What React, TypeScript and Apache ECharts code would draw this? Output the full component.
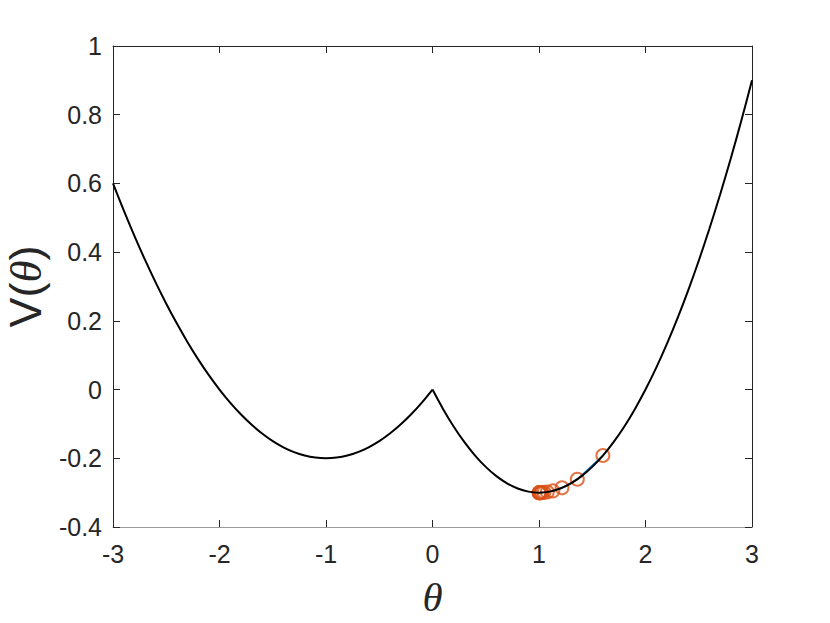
import React, { useEffect, useRef } from "react";
import * as echarts from "echarts";

// Curve samples
const thetaGrid = [
  -3.0, -2.9, -2.8, -2.7, -2.6, -2.5, -2.4, -2.3, -2.2, -2.1, -2.0, -1.9, -1.8, -1.7, -1.6, -1.5,
  -1.4, -1.3, -1.2, -1.1, -1.0, -0.9, -0.8, -0.7, -0.6, -0.5, -0.4, -0.3, -0.2, -0.1, 0.0,
  0.1, 0.2, 0.3, 0.4, 0.5, 0.6, 0.7, 0.8, 0.9, 1.0, 1.1, 1.2, 1.3, 1.4, 1.5, 1.6, 1.7, 1.8, 1.9,
  2.0, 2.1, 2.2, 2.3, 2.4, 2.5, 2.6, 2.7, 2.8, 2.9, 3.0,
];
const vCurve = [
  0.6, 0.522, 0.448, 0.378, 0.312, 0.25, 0.192, 0.138, 0.088, 0.042, 0.0, -0.038, -0.072, -0.102,
  -0.128, -0.15, -0.168, -0.182, -0.192, -0.198, -0.2, -0.198, -0.192, -0.182, -0.168, -0.15,
  -0.128, -0.102, -0.072, -0.038, 0.0,
  -0.057, -0.108, -0.153, -0.192, -0.225, -0.252, -0.273, -0.288, -0.297, -0.3, -0.297, -0.288,
  -0.273, -0.252, -0.225, -0.192, -0.153, -0.108, -0.057, 0.0, 0.063, 0.132, 0.207, 0.288, 0.375,
  0.468, 0.567, 0.672, 0.783, 0.9,
];

// Iterates (orange circles joined by the blue path)
const thetaIter = [1.6, 1.36, 1.216, 1.13, 1.078, 1.047, 1.028, 1.017, 1.01, 1.006, 1.004, 1.002, 1.001];
const vIter = [-0.192, -0.261, -0.286, -0.295, -0.298, -0.299, -0.2998, -0.2999, -0.3, -0.3, -0.3, -0.3, -0.3];

const xTicks = [-3, 3, 1];
const yTicks = [-0.4, 1, 0.2];

export default function App() {
  const ref = useRef<HTMLDivElement>(null);
  useEffect(() => {
    if (!ref.current) return;
    const chart = echarts.init(ref.current, null, { renderer: "svg" });
    const cusp = thetaGrid.indexOf(0);
    const left = thetaGrid.slice(0, cusp + 1).map((t, i) => [t, vCurve[i]]);
    const right = thetaGrid.slice(cusp).map((t, i) => [t, vCurve[cusp + i]]);
    const itersLine = thetaIter.map((t, i) => [t, vIter[i]]);
    const itersPts = thetaIter.map((t, i) => [t, vIter[i]]);
    const dark = "#262626";
    const tickFont = { fontFamily: "Liberation Sans, Arial, sans-serif", fontSize: 25, color: dark };
    const axisCommon = {
      type: "value" as const,
      splitLine: { show: false },
      axisTick: { show: true, inside: true, length: 7, lineStyle: { color: dark, width: 1 } },
    };
    chart.setOption({
      animation: false,
      backgroundColor: "#ffffff",
      grid: { left: 113, top: 46, right: 78, bottom: 96, containLabel: false, outerBoundsMode: "none" },
      xAxis: [
        {
          ...axisCommon,
          position: "bottom",
          min: xTicks[0],
          max: xTicks[1],
          interval: xTicks[2],
          axisLine: { show: true, onZero: false, lineStyle: { color: "#9a9a9a", width: 1 } },
          axisLabel: { ...tickFont, margin: 14 },
          name: "θ",
          nameLocation: "middle",
          nameGap: 51,
          nameTextStyle: {
            fontFamily: "Liberation Serif, DejaVu Serif, serif",
            fontStyle: "italic",
            fontSize: 41,
            lineHeight: 38,
            color: dark,
          },
        },
        {
          ...axisCommon,
          position: "top",
          min: xTicks[0],
          max: xTicks[1],
          interval: xTicks[2],
          axisLine: { show: true, onZero: false, lineStyle: { color: dark, width: 1 } },
          axisLabel: { show: false },
        },
      ],
      yAxis: [
        {
          ...axisCommon,
          position: "left",
          min: yTicks[0],
          max: yTicks[1],
          interval: yTicks[2],
          axisLine: { show: true, onZero: false, lineStyle: { color: dark, width: 1 } },
          axisLabel: { ...tickFont, margin: 11 },
          name: "{v|V(}{t|θ}{v|)}",
          nameLocation: "middle",
          nameGap: 60,
          nameRotate: 90,
          nameTextStyle: {
            color: dark,
            rich: {
              v: { fontFamily: "Liberation Sans, Arial, sans-serif", fontSize: 45, color: dark },
              t: {
                fontFamily: "Liberation Serif, DejaVu Serif, serif",
                fontStyle: "italic",
                fontSize: 45,
                color: dark,
              },
            },
          },
        },
        {
          ...axisCommon,
          position: "right",
          min: yTicks[0],
          max: yTicks[1],
          interval: yTicks[2],
          axisLine: { show: true, onZero: false, lineStyle: { color: dark, width: 1 } },
          axisLabel: { show: false },
        },
      ],
      series: [
        {
          type: "line",
          data: itersLine,
          showSymbol: false,
          symbol: "none",
          lineStyle: { color: "#0072BD", width: 1.5 },
          z: 2,
        },
        {
          type: "scatter",
          data: itersPts,
          symbol: "circle",
          symbolSize: 13,
          itemStyle: { color: "rgba(0,0,0,0)", borderColor: "#D95319", borderWidth: 2 },
          z: 3,
        },
        {
          type: "line",
          data: left,
          smooth: 0.3,
          symbol: "none",
          lineStyle: { color: "#000000", width: 2 },
          z: 4,
        },
        {
          type: "line",
          data: right,
          smooth: 0.3,
          symbol: "none",
          lineStyle: { color: "#000000", width: 2 },
          z: 4,
        },
      ],
    });
    return () => chart.dispose();
  }, []);
  return <div ref={ref} style={{ width: 830, height: 623, margin: -8 }} />;
}
